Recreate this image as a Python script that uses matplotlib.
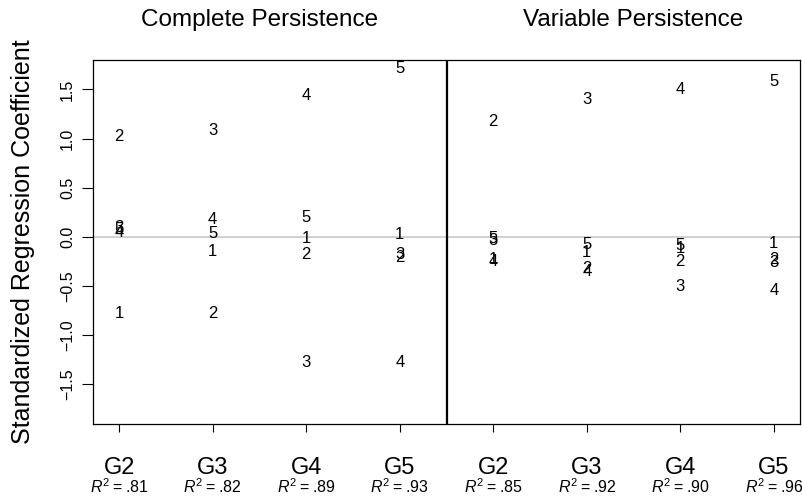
import matplotlib
matplotlib.use("Agg")
import matplotlib.pyplot as plt

plt.rcParams["font.family"] = ["Liberation Sans", "DejaVu Sans"]
plt.rcParams["mathtext.fontset"] = "custom"
plt.rcParams["mathtext.rm"] = "Liberation Sans"
plt.rcParams["mathtext.it"] = "Liberation Sans:italic"

# ---------------- DATA ----------------
groups = ["G2", "G3", "G4", "G5", "G2", "G3", "G4", "G5"]
r2_values = [".81", ".82", ".89", ".93", ".85", ".92", ".90", ".96"]
panel_titles = ["Complete Persistence", "Variable Persistence"]

# standardized coefficients of predictors 1..5, one value per group
coef1 = [-0.76, -0.13, 0.00, 0.04, -0.22, -0.14, -0.10, -0.05]
coef2 = [1.04, -0.76, -0.16, -0.19, 1.19, -0.31, -0.24, -0.22]
coef3 = [0.11, 1.10, -1.26, -0.16, -0.02, 1.41, -0.49, -0.25]
coef4 = [0.06, 0.19, 1.45, -1.26, -0.24, -0.34, 1.51, -0.53]
coef5 = [0.09, 0.05, 0.21, 1.73, 0.00, -0.06, -0.07, 1.60]
coef_labels = ["1", "2", "3", "4", "5"]

# ---------------- PLOT ----------------
fig = plt.figure(figsize=(8.02, 4.98), dpi=100)
ax = fig.add_axes([0.116, 0.1486, 0.8815, 0.7309])

xs = list(range(1, len(groups) + 1))
ax.axhline(0, color="#c8c8c8", lw=1.2, zorder=0)
ax.axvline(4.5, color="black", lw=1.6)

for lab, vals in zip(coef_labels, [coef1, coef2, coef3, coef4, coef5]):
    for x, v in zip(xs, vals):
        ax.text(x, v, lab, ha="center", va="center_baseline", fontsize=12)

ax.set_xlim(0.72, 8.28)
ax.set_ylim(-1.905, 1.80)
ax.set_xticks(xs)
ax.set_xticklabels(groups, fontsize=17)
ax.set_yticks([-1.5, -1.0, -0.5, 0.0, 0.5, 1.0, 1.5])
ax.set_yticklabels(["\u22121.5", "\u22121.0", "\u22120.5", "0.0", "0.5", "1.0", "1.5"],
                   rotation=90, va="center", fontsize=11.5)
ax.tick_params(axis="y", length=8, width=0.8, pad=5)
ax.tick_params(axis="x", length=6, width=0.8, pad=18)
for s in ax.spines.values():
    s.set_linewidth(0.9)
ax.set_ylabel("Standardized Regression Coefficient", fontsize=18, labelpad=18)

for x, r2 in zip(xs, r2_values):
    ax.text(x, -0.173, r"$R^2$" + "\u2009=\u2009" + r2, transform=ax.get_xaxis_transform(),
            ha="center", va="center", fontsize=11.5)

ax.text(2.5, 1.11, panel_titles[0], transform=ax.get_xaxis_transform(),
        ha="center", va="center", fontsize=17.5)
ax.text(6.5, 1.11, panel_titles[1], transform=ax.get_xaxis_transform(),
        ha="center", va="center", fontsize=17.5)

fig.savefig("out.png", dpi=100)
